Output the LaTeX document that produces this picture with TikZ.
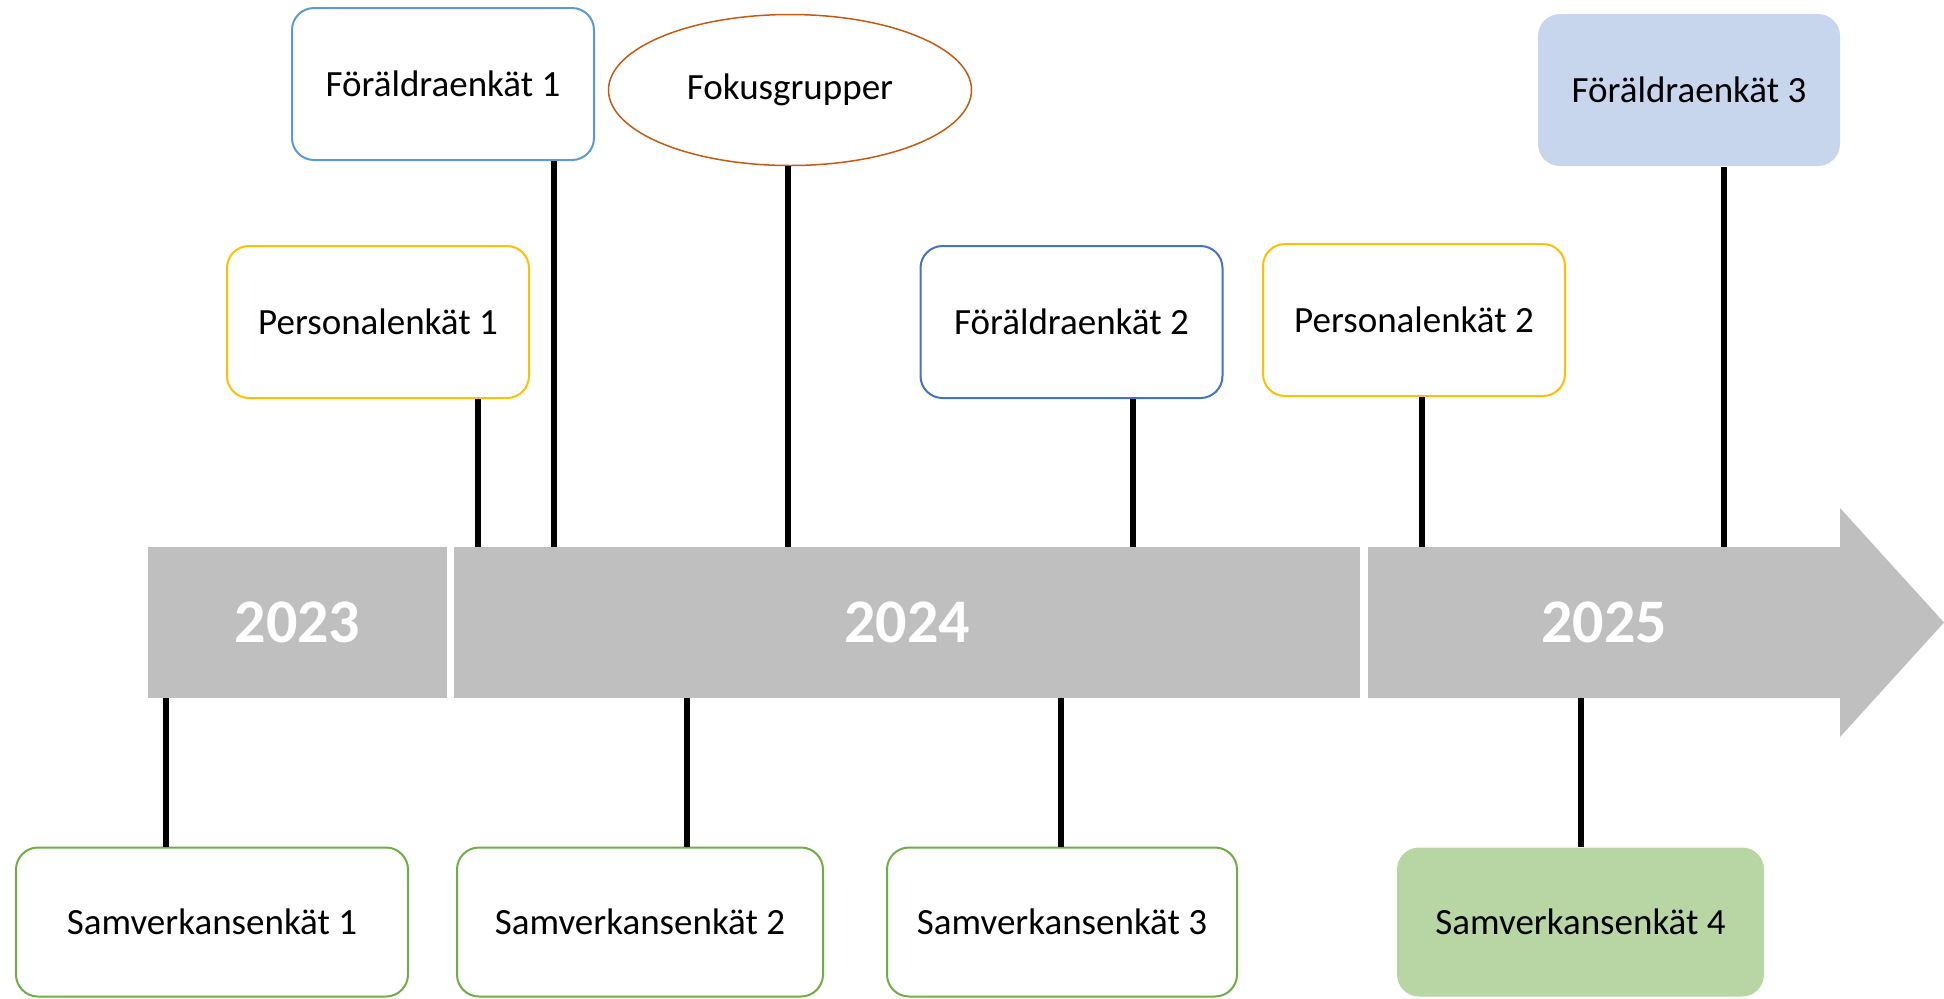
\documentclass[tikz,border=0pt]{standalone}
\usepackage{fontspec}
\setmainfont{Carlito}
\usetikzlibrary{shapes.geometric}
\definecolor{barc}{HTML}{BFBFBF}
\definecolor{lblue}{HTML}{5B9BD5}
\definecolor{dblue}{HTML}{4472C4}
\definecolor{gold}{HTML}{FFC000}
\definecolor{rust}{HTML}{C55A11}
\definecolor{grn}{HTML}{70AD47}
\definecolor{bluefill}{HTML}{C7D5ED}
\definecolor{grnfill}{HTML}{B8D6A4}
\begin{document}
\begin{tikzpicture}[x=0.5pt,y=-0.5pt,
  evbox/.style={rounded corners=11pt, line width=1pt, fill=white, minimum width=151pt, minimum height=76pt, inner sep=0pt, align=center, font=\fontsize{18.5}{22}\selectfont},
  sambox/.style={evbox, draw=grn, minimum height=74.5pt},
  stem/.style={line width=2.8pt, black},
  barseg/.style={fill=barc, inner sep=0pt, minimum height=75.5pt},
  yearlbl/.style={text=white, font=\fontsize{31}{36}\selectfont\bfseries}]
\useasboundingbox (0,0) rectangle (1944,998);

% timeline bar
\node[barseg, yearlbl, minimum width=149.5pt] (y23) at (297.5,622.5) {2023};
\node[barseg, yearlbl, minimum width=453pt] (y24) at (907,622.5) {2024};
\fill[barc] (1368,547) -- (1840,547) -- (1840,508) -- (1944,622.5) -- (1840,737) -- (1840,698) -- (1368,698) -- cycle;
\node[yearlbl] (y25) at (1604,622.5) {2025};

% upper events
\node[evbox, draw=lblue] (foer1) at (443,84) {Föräldraenkät 1};
\node[ellipse, draw=rust, line width=0.75pt, fill=white, minimum width=181.5pt, minimum height=75.5pt, inner sep=0pt, font=\fontsize{18.5}{22}\selectfont] (fokus) at (790,90) {Fokusgrupper};
\node[evbox, draw=gold] (pers1) at (378,322) {Personalenkät 1};
\node[evbox, draw=dblue] (foer2) at (1071.5,322) {Föräldraenkät 2};
\node[evbox, draw=gold] (pers2) at (1414,320) {Personalenkät 2};
\node[evbox, draw=none, fill=bluefill] (foer3) at (1689,90) {Föräldraenkät 3};

% lower events
\node[sambox, minimum width=196pt] (sam1) at (212,922) {Samverkansenkät 1};
\node[sambox, minimum width=183pt] (sam2) at (640,922) {Samverkansenkät 2};
\node[sambox, minimum width=175pt] (sam3) at (1062,922) {Samverkansenkät 3};
\node[sambox, draw=none, fill=grnfill, minimum width=183.5pt] (sam4) at (1580.5,922) {Samverkansenkät 4};

% anchor points on the bar
\coordinate (t1) at (478,547);
\coordinate (t2) at (554,547);
\coordinate (t3) at (788,547);
\coordinate (t4) at (1133,547);
\coordinate (t5) at (1422,547);
\coordinate (t6) at (1724,547);
\coordinate (b1) at (166,698);
\coordinate (b2) at (687,698);
\coordinate (b3) at (1061,698);
\coordinate (b4) at (1581,698);

% stems
\draw[stem] (pers1.south -| t1) -- (t1);
\draw[stem] (foer1.south -| t2) -- (t2);
\draw[stem] (fokus.south -| t3) -- (t3);
\draw[stem] (foer2.south -| t4) -- (t4);
\draw[stem] (pers2.south -| t5) -- (t5);
\draw[stem] (foer3.south -| t6) -- (t6);
\draw[stem] (b1) -- (sam1.north -| b1);
\draw[stem] (b2) -- (sam2.north -| b2);
\draw[stem] (b3) -- (sam3.north -| b3);
\draw[stem] (b4) -- (sam4.north -| b4);
\end{tikzpicture}
\end{document}
